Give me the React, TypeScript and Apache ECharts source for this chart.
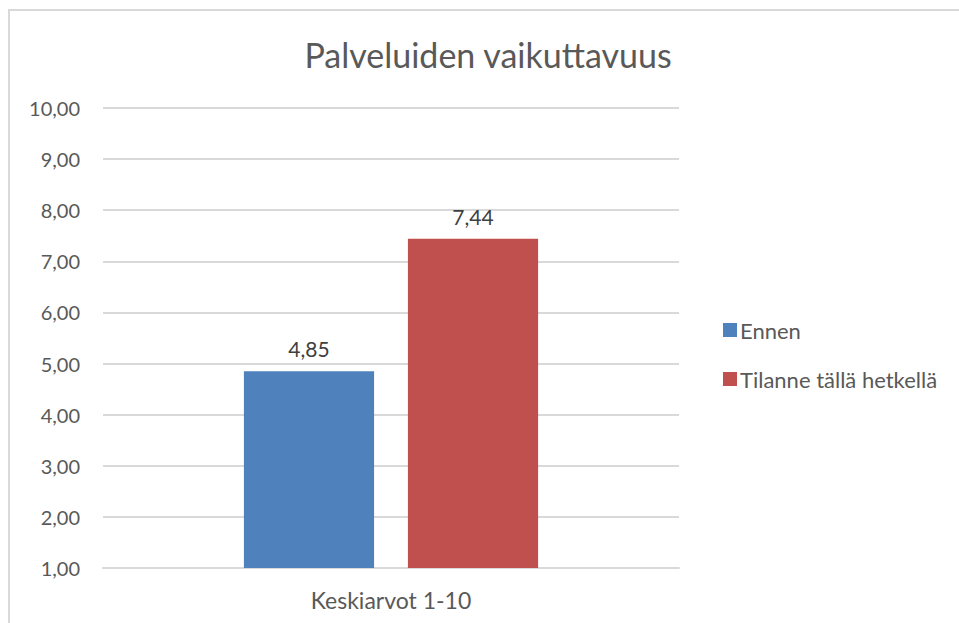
import React, { useEffect, useRef } from "react";
import * as echarts from "echarts";

const titleText = "Palveluiden vaikuttavuus";
const categories = ["Keskiarvot 1-10"];
const seriesNames = ["Ennen", "Tilanne tällä hetkellä"];
const ennenValues = [4.85];
const tilanneValues = [7.44];
const colors = ["#4F81BD", "#C0504D"];

const FONT = "Lato";
const fmt = (v: number) => v.toFixed(2).replace(".", ",");

export default function App() {
  const ref = useRef<HTMLDivElement>(null);
  useEffect(() => {
    if (!ref.current) return;
    const chart = echarts.init(ref.current, undefined, { renderer: "svg" });
    const labelStyle = {
      show: true,
      position: "top",
      distance: 12,
      fontFamily: FONT,
      fontSize: 21,
      color: "#404040",
      formatter: (p: any) => fmt(p.value),
    };
    chart.setOption({
      animation: false,
      backgroundColor: "#ffffff",
      title: {
        text: titleText,
        left: 483,
        top: 32,
        textAlign: "center",
        textStyle: { fontFamily: FONT, fontSize: 34, fontWeight: "normal", color: "#595959" },
      },
      graphic: [
        {
          type: "rect",
          shape: { x: 9, y: 10, width: 1200, height: 1200 },
          style: { fill: "none", stroke: "#d9d9d9", lineWidth: 2 },
          silent: true,
        },
      ],
      legend: {
        orient: "vertical",
        left: 718,
        top: 314,
        itemWidth: 14,
        itemHeight: 14,
        itemGap: 27,
        icon: "rect",
        data: seriesNames,
        textStyle: { fontFamily: FONT, fontSize: 22, color: "#595959", padding: [0, 0, 0, -2] },
      },
      grid: { left: 103, right: 280, top: 108, bottom: 55, containLabel: false },
      xAxis: {
        type: "category",
        data: categories,
        axisLine: { lineStyle: { color: "#d9d9d9", width: 2 } },
        axisTick: { show: false },
        axisLabel: { fontFamily: FONT, fontSize: 23, color: "#595959", margin: 20 },
      },
      yAxis: {
        type: "value",
        min: 1,
        max: 10,
        interval: 1,
        axisLine: { show: false },
        axisTick: { show: false },
        splitLine: { lineStyle: { color: "#d9d9d9", width: 2 } },
        axisLabel: {
          fontFamily: FONT,
          fontSize: 20,
          color: "#595959",
          margin: 23,
          formatter: (v: number) => fmt(v),
        },
      },
      series: [
        {
          name: seriesNames[0],
          type: "bar",
          data: ennenValues,
          barWidth: "22.6%",
          barGap: "26%",
          itemStyle: { color: colors[0] },
          label: labelStyle,
        },
        {
          name: seriesNames[1],
          type: "bar",
          data: tilanneValues,
          barWidth: "22.6%",
          barGap: "26%",
          itemStyle: { color: colors[1] },
          label: labelStyle,
        },
      ],
    });
    return () => chart.dispose();
  }, []);
  return (
    <div
      ref={ref}
      style={{ position: "absolute", left: 0, top: 0, width: 959, height: 623 }}
    />
  );
}
